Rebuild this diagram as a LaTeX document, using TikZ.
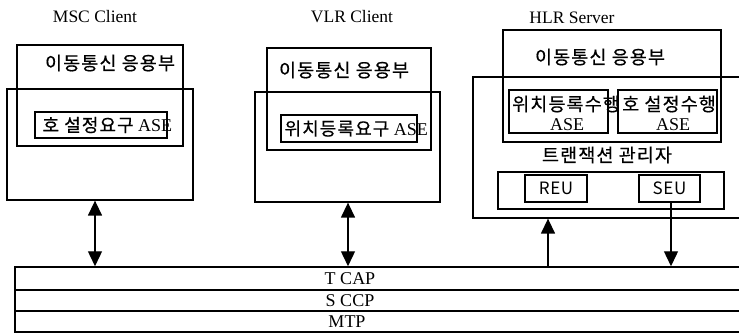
\documentclass[tikz,border=0pt]{standalone}
\usepackage{fontspec}
\setmainfont{Liberation Serif}
\newfontfamily\kr[LetterSpace=6, FakeBold=0.5]{Noto Sans CJK KR}
\newfontfamily\krlight[LetterSpace=4]{Noto Sans CJK KR}
\usetikzlibrary{arrows.meta,positioning,calc}
\tikzset{
    box/.style={rectangle, draw, line width=1.3pt, inner sep=0},
    layer/.style={rectangle, draw, line width=1.5pt, inner sep=0, minimum width=735pt},
    title/.style={inner sep=0, font=\fontsize{17.5}{19}\selectfont},
    ktext/.style={inner sep=0, font=\kr\fontsize{18.5}{20}\selectfont},
    unit/.style={box, inner sep=0, font=\krlight\fontsize{17}{19}\selectfont},
    ltext/.style={inner sep=0, font=\fontsize{18}{20}\selectfont},
    both/.style={{Triangle[length=15pt,width=14pt]}-{Triangle[length=15pt,width=14pt]}, line width=1.4pt},
    up/.style={-{Triangle[length=15pt,width=14pt]}, line width=1.4pt},
  }

\begin{document}
\begin{tikzpicture}[x=1pt, y=-1pt]
      \useasboundingbox (0,0) rectangle (739,334);

      % MSC client
      \node (msc) [title] at (95,17) {MSC Client};
      \node (msc-app) [box, minimum width=166pt, minimum height=101pt] at (100,95.5) {};
      \node (msc-box) [box, minimum width=186pt, minimum height=111pt] at (100,144.5) {};
      \node (msc-ase) [box, minimum width=132pt, minimum height=26pt] at (101,125) {};
      \node (msc-app-t) [ktext] at (110,63) {이동통신 응용부};
      \node (msc-ase-t) [ltext, anchor=west] at ([xshift=8pt]msc-ase.west) {{\kr 호 설정요구} ASE};

      % VLR client
      \node (vlr) [title] at (352,17) {VLR Client};
      \node (vlr-app) [box, minimum width=164pt, minimum height=102pt] at (349,99) {};
      \node (vlr-box) [box, minimum width=185pt, minimum height=110pt] at (347.5,147) {};
      \node (vlr-ase) [box, minimum width=136pt, minimum height=27pt] at (349,128.5) {};
      \node (vlr-app-t) [ktext] at (344,70) {이동통신 응용부};
      \node (vlr-ase-t) [ltext, anchor=west] at ([xshift=4pt]vlr-ase.west) {{\kr 위치등록요구} ASE};

      % HLR server
      \node (hlr) [title] at (572,18) {HLR Server};
      \node (hlr-app) [box, minimum width=218pt, minimum height=112pt] at (612,86) {};
      \node (hlr-box) [box, minimum width=277pt, minimum height=141pt] at (611.5,147.5) {};
      \node (hlr-reg) [box, minimum width=99pt, minimum height=43pt] at (558.5,111.5) {};
      \node (hlr-call) [box, minimum width=99pt, minimum height=43pt] at (667.5,111.5) {};
      \node (hlr-app-t) [ktext] at (600,57) {이동통신 응용부};
      \node (hlr-reg-t) [ktext, anchor=west] at (512,104) {위치등록수행};
      \node (hlr-reg-a) [ltext] at (567,125) {ASE};
      \node (hlr-call-t) [ktext, anchor=west] at (622,104) {호 설정수행};
      \node (hlr-call-a) [ltext] at (673,125) {ASE};
      \node (tm-t) [ktext] at (607,155) {트랜잭션 관리자};
      \node (hlr-tm) [box, minimum width=226pt, minimum height=37pt] at (611,190.5) {};
      \node (reu) [unit, minimum width=62pt, minimum height=27pt] at (556,188.5) {REU};
      \node (seu) [unit, minimum width=61pt, minimum height=27pt] at (669.5,188.5) {SEU};

      % protocol stack
      \node (tcap) [layer, minimum height=23pt] at (382.5,278.5) {};
      \node (sccp) [layer, minimum height=21pt] at (382.5,300.5) {};
      \node (mtp) [layer, minimum height=21pt] at (382.5,321.5) {};
      \node (tcap-t) [ltext] at (350,278.5) {T CAP};
      \node (sccp-t) [ltext] at (350,300.5) {S CCP};
      \node (mtp-t) [ltext] at (347,321.5) {MTP};

      \draw [both] ([xshift=-5pt]msc-box.south) -- ([xshift=-5pt]msc-box.south |- tcap.north);
      \draw [both] ([xshift=0.5pt]vlr-box.south) -- ([xshift=0.5pt]vlr-box.south |- tcap.north);
      \draw [up] ([xshift=-8pt]reu.south |- tcap.north) -- ([xshift=-8pt]reu.south |- hlr-box.south);
      \draw [up] ([xshift=1.5pt]seu.south) -- ([xshift=1.5pt]seu.south |- tcap.north);
\end{tikzpicture}
\end{document}
